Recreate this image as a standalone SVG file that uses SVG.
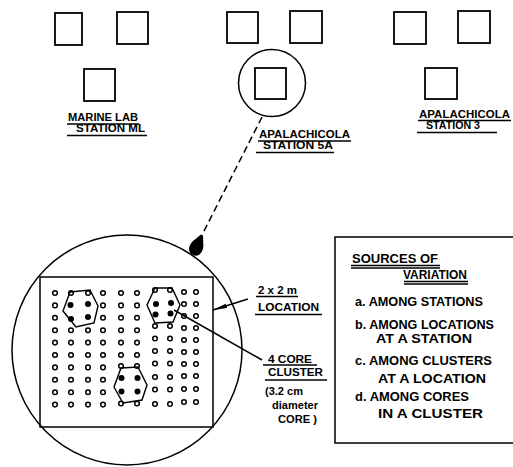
<svg xmlns="http://www.w3.org/2000/svg" width="513" height="467" viewBox="0 0 513 467">
<defs>
<style>
.sq{fill:none;stroke:#000;stroke-width:1.8}
.ln{fill:none;stroke:#000;stroke-width:1.5}
.ul{fill:none;stroke:#000;stroke-width:1.3}
.t{font-family:"Liberation Sans","DejaVu Sans",sans-serif;font-weight:bold;fill:#000}
.s{font-size:11px}
.m{font-size:12.5px}
.o{fill:#fff;stroke:#000;stroke-width:1.5}
.f{fill:#000}
.hx{fill:none;stroke:#000;stroke-width:1.4}
</style>
<marker id="ah" viewBox="0 0 14 6" refX="14" refY="3" markerWidth="14" markerHeight="6" markerUnits="userSpaceOnUse" orient="auto">
<path d="M0,0.8 L14,3 L0,5.2 Z" fill="#000"/>
</marker>
</defs>

<g id="station-ml">
<rect class="sq" x="55" y="13" width="27" height="32"/>
<rect class="sq" x="117" y="12" width="31" height="32"/>
<rect class="sq" x="84" y="69" width="31" height="32"/>
<text class="t s" x="68" y="121" textLength="70" lengthAdjust="spacingAndGlyphs">MARINE LAB</text>
<line class="ul" x1="67" y1="124" x2="139" y2="124"/>
<text class="t s" x="76" y="132" textLength="69" lengthAdjust="spacingAndGlyphs">STATION ML</text>
<line class="ul" x1="67" y1="135.5" x2="147" y2="135.5"/>
</g>

<g id="station-5a">
<rect class="sq" x="227" y="12" width="31" height="31"/>
<rect class="sq" x="290" y="11" width="32" height="32"/>
<rect class="sq" x="255" y="68" width="31" height="31"/>
<circle class="ln" cx="272" cy="83" r="33.5"/>
<text class="t s" x="259" y="138" textLength="91" lengthAdjust="spacingAndGlyphs">APALACHICOLA</text>
<line class="ul" x1="258" y1="141" x2="351" y2="141"/>
<text class="t s" x="263" y="149" textLength="70" lengthAdjust="spacingAndGlyphs">STATION 5A</text>
<line class="ul" x1="256" y1="152.5" x2="334" y2="152.5"/>
</g>

<g id="station-3">
<rect class="sq" x="394" y="12" width="32" height="32"/>
<rect class="sq" x="458" y="11" width="32" height="32"/>
<rect class="sq" x="425" y="68" width="32" height="31"/>
<text class="t s" x="419" y="117.5" textLength="91" lengthAdjust="spacingAndGlyphs">APALACHICOLA</text>
<line class="ul" x1="418" y1="120.5" x2="511" y2="120.5"/>
<text class="t s" x="426" y="129" textLength="54" lengthAdjust="spacingAndGlyphs">STATION 3</text>
<line class="ul" x1="417" y1="132.5" x2="497" y2="132.5"/>
</g>

<g id="location-detail">
<circle class="ln" cx="127" cy="350" r="115"/>
<rect class="ln" x="40" y="277" width="173" height="150" stroke-width="1.8"/>
<g id="grid">
<circle class="o" cx="55" cy="293" r="2.3"/><circle class="o" cx="71" cy="293" r="2.3"/><circle class="o" cx="88" cy="293" r="2.3"/><circle class="o" cx="103" cy="293" r="2.3"/><circle class="o" cx="121" cy="293" r="2.3"/><circle class="o" cx="137" cy="293" r="2.3"/><circle class="o" cx="155" cy="290" r="2.3"/><circle class="o" cx="170" cy="290" r="2.3"/><circle class="o" cx="184" cy="292" r="2.3"/><circle class="o" cx="196" cy="292" r="2.3"/>
<circle class="o" cx="55" cy="305.4" r="2.3"/><circle class="o" cx="103" cy="305.4" r="2.3"/><circle class="o" cx="121" cy="305.4" r="2.3"/><circle class="o" cx="137" cy="305.4" r="2.3"/><circle class="o" cx="184" cy="304" r="2.3"/><circle class="o" cx="196" cy="304" r="2.3"/>
<circle class="o" cx="55" cy="317.8" r="2.3"/><circle class="o" cx="103" cy="317.8" r="2.3"/><circle class="o" cx="121" cy="317.8" r="2.3"/><circle class="o" cx="137" cy="317.8" r="2.3"/><circle class="o" cx="184" cy="316" r="2.3"/><circle class="o" cx="196" cy="316" r="2.3"/>
<circle class="o" cx="55" cy="330.2" r="2.3"/><circle class="o" cx="71" cy="330.2" r="2.3"/><circle class="o" cx="88" cy="330.2" r="2.3"/><circle class="o" cx="103" cy="330.2" r="2.3"/><circle class="o" cx="121" cy="330.2" r="2.3"/><circle class="o" cx="137" cy="330.2" r="2.3"/><circle class="o" cx="155" cy="326" r="2.3"/><circle class="o" cx="170" cy="326" r="2.3"/><circle class="o" cx="184" cy="328" r="2.3"/><circle class="o" cx="196" cy="328" r="2.3"/>
<circle class="o" cx="55" cy="342.6" r="2.3"/><circle class="o" cx="71" cy="342.6" r="2.3"/><circle class="o" cx="88" cy="342.6" r="2.3"/><circle class="o" cx="103" cy="342.6" r="2.3"/><circle class="o" cx="121" cy="342.6" r="2.3"/><circle class="o" cx="137" cy="342.6" r="2.3"/><circle class="o" cx="155" cy="338.5" r="2.3"/><circle class="o" cx="170" cy="338.5" r="2.3"/><circle class="o" cx="184" cy="340" r="2.3"/><circle class="o" cx="196" cy="340" r="2.3"/>
<circle class="o" cx="55" cy="355" r="2.3"/><circle class="o" cx="71" cy="355" r="2.3"/><circle class="o" cx="88" cy="355" r="2.3"/><circle class="o" cx="103" cy="355" r="2.3"/><circle class="o" cx="121" cy="355" r="2.3"/><circle class="o" cx="137" cy="355" r="2.3"/><circle class="o" cx="155" cy="351" r="2.3"/><circle class="o" cx="170" cy="351" r="2.3"/><circle class="o" cx="184" cy="352" r="2.3"/><circle class="o" cx="196" cy="352" r="2.3"/>
<circle class="o" cx="55" cy="367.4" r="2.3"/><circle class="o" cx="71" cy="367.4" r="2.3"/><circle class="o" cx="88" cy="367.4" r="2.3"/><circle class="o" cx="103" cy="367.4" r="2.3"/><circle class="o" cx="121" cy="366" r="2.3"/><circle class="o" cx="137" cy="366" r="2.3"/><circle class="o" cx="155" cy="363.5" r="2.3"/><circle class="o" cx="170" cy="363.5" r="2.3"/><circle class="o" cx="184" cy="364" r="2.3"/><circle class="o" cx="196" cy="364" r="2.3"/>
<circle class="o" cx="55" cy="379.8" r="2.3"/><circle class="o" cx="71" cy="379.8" r="2.3"/><circle class="o" cx="88" cy="379.8" r="2.3"/><circle class="o" cx="103" cy="379.8" r="2.3"/><circle class="o" cx="155" cy="377" r="2.3"/><circle class="o" cx="170" cy="377" r="2.3"/><circle class="o" cx="184" cy="376" r="2.3"/><circle class="o" cx="196" cy="376" r="2.3"/>
<circle class="o" cx="55" cy="392.2" r="2.3"/><circle class="o" cx="71" cy="392.2" r="2.3"/><circle class="o" cx="88" cy="392.2" r="2.3"/><circle class="o" cx="103" cy="392.2" r="2.3"/><circle class="o" cx="155" cy="389.5" r="2.3"/><circle class="o" cx="170" cy="389.5" r="2.3"/><circle class="o" cx="184" cy="389" r="2.3"/><circle class="o" cx="196" cy="389" r="2.3"/>
<circle class="o" cx="55" cy="404.6" r="2.3"/><circle class="o" cx="71" cy="404.6" r="2.3"/><circle class="o" cx="88" cy="404.6" r="2.3"/><circle class="o" cx="103" cy="404.6" r="2.3"/><circle class="o" cx="121" cy="403.5" r="2.3"/><circle class="o" cx="137" cy="403.5" r="2.3"/><circle class="o" cx="155" cy="404" r="2.3"/><circle class="o" cx="170" cy="404" r="2.3"/><circle class="o" cx="184" cy="402" r="2.3"/><circle class="o" cx="196" cy="402" r="2.3"/>
</g>
<g id="cluster-1">
<polygon class="hx" points="70,292 90,290 98,306 94,323 76,327 63,311"/>
<circle class="f" cx="70.5" cy="305" r="3"/><circle class="f" cx="88" cy="304" r="3"/><circle class="f" cx="71" cy="319" r="3"/><circle class="f" cx="88" cy="317" r="3"/>
</g>
<g id="cluster-2">
<polygon class="hx" points="155,288 172,288 180,305 173,322 155,323 147,305"/>
<circle class="f" cx="156" cy="304" r="3"/><circle class="f" cx="171" cy="303" r="3"/><circle class="f" cx="155.5" cy="314.5" r="3"/><circle class="f" cx="170.5" cy="313.5" r="3"/>
</g>
<g id="cluster-3">
<polygon class="hx" points="121,368 138,367 147,385 142,400 123,403 114,387"/>
<circle class="f" cx="121.5" cy="378" r="3"/><circle class="f" cx="137.5" cy="378" r="3"/><circle class="f" cx="121.5" cy="391.5" r="3"/><circle class="f" cx="137.5" cy="391.5" r="3"/>
</g>
</g>

<g id="labels-detail">
<text class="t s" x="258" y="293.5" textLength="39" lengthAdjust="spacingAndGlyphs">2 x 2 m</text>
<line class="ul" x1="256" y1="296.5" x2="298" y2="296.5"/>
<text class="t s" x="258" y="311" textLength="61" lengthAdjust="spacingAndGlyphs">LOCATION</text>
<line class="ul" x1="255" y1="314.5" x2="322" y2="314.5"/>
<text class="t s" x="268" y="362.5" textLength="44" lengthAdjust="spacingAndGlyphs">4 CORE</text>
<line class="ul" x1="263" y1="365" x2="317" y2="365"/>
<text class="t s" x="268" y="376" textLength="55" lengthAdjust="spacingAndGlyphs">CLUSTER</text>
<line class="ul" x1="265" y1="380" x2="327" y2="380"/>
<text class="t s" x="265" y="394.5" textLength="38" lengthAdjust="spacingAndGlyphs">(3.2 cm</text>
<text class="t s" x="272" y="408.5" textLength="46" lengthAdjust="spacingAndGlyphs">diameter</text>
<text class="t s" x="278" y="422.5" textLength="39" lengthAdjust="spacingAndGlyphs">CORE )</text>
</g>

<g id="sources-box">
<rect class="ln" x="335" y="237" width="190" height="206"/>
<text class="t m" x="352" y="263" textLength="86" lengthAdjust="spacingAndGlyphs">SOURCES  OF</text>
<line class="ul" x1="351" y1="265.5" x2="440" y2="265.5"/>
<line class="ul" x1="351" y1="268" x2="440" y2="268"/>
<text class="t m" x="403" y="278.5" textLength="64" lengthAdjust="spacingAndGlyphs">VARIATION</text>
<line class="ul" x1="404" y1="281.5" x2="468" y2="281.5"/>
<line class="ul" x1="404" y1="284" x2="468" y2="284"/>
<text class="t m" x="355" y="306" textLength="128" lengthAdjust="spacingAndGlyphs">a. AMONG  STATIONS</text>
<text class="t m" x="355" y="329" textLength="139" lengthAdjust="spacingAndGlyphs">b. AMONG  LOCATIONS</text>
<text class="t m" x="376" y="343" textLength="96" lengthAdjust="spacingAndGlyphs">AT  A  STATION</text>
<text class="t m" x="355" y="365" textLength="137" lengthAdjust="spacingAndGlyphs">c. AMONG  CLUSTERS</text>
<text class="t m" x="378" y="383" textLength="108" lengthAdjust="spacingAndGlyphs">AT  A  LOCATION</text>
<text class="t m" x="355" y="401" textLength="114" lengthAdjust="spacingAndGlyphs">d. AMONG   CORES</text>
<text class="t m" x="378" y="418" textLength="105" lengthAdjust="spacingAndGlyphs">IN  A  CLUSTER</text>
</g>

<g id="connectors">
<line class="ln" x1="262" y1="117" x2="203" y2="233" stroke-dasharray="7 4"/>
<path transform="translate(193,255) rotate(24)" d="M0,0 C-8,0 -8,-10 -4.5,-15 L-1.2,-22 L1.2,-22 L4.5,-15 C8,-10 8,0 0,0 Z" fill="#000"/>
<line class="ln" x1="248" y1="299" x2="213" y2="310" marker-end="url(#ah)"/>
<line class="ln" x1="174" y1="310" x2="262" y2="360"/>
</g>
</svg>
